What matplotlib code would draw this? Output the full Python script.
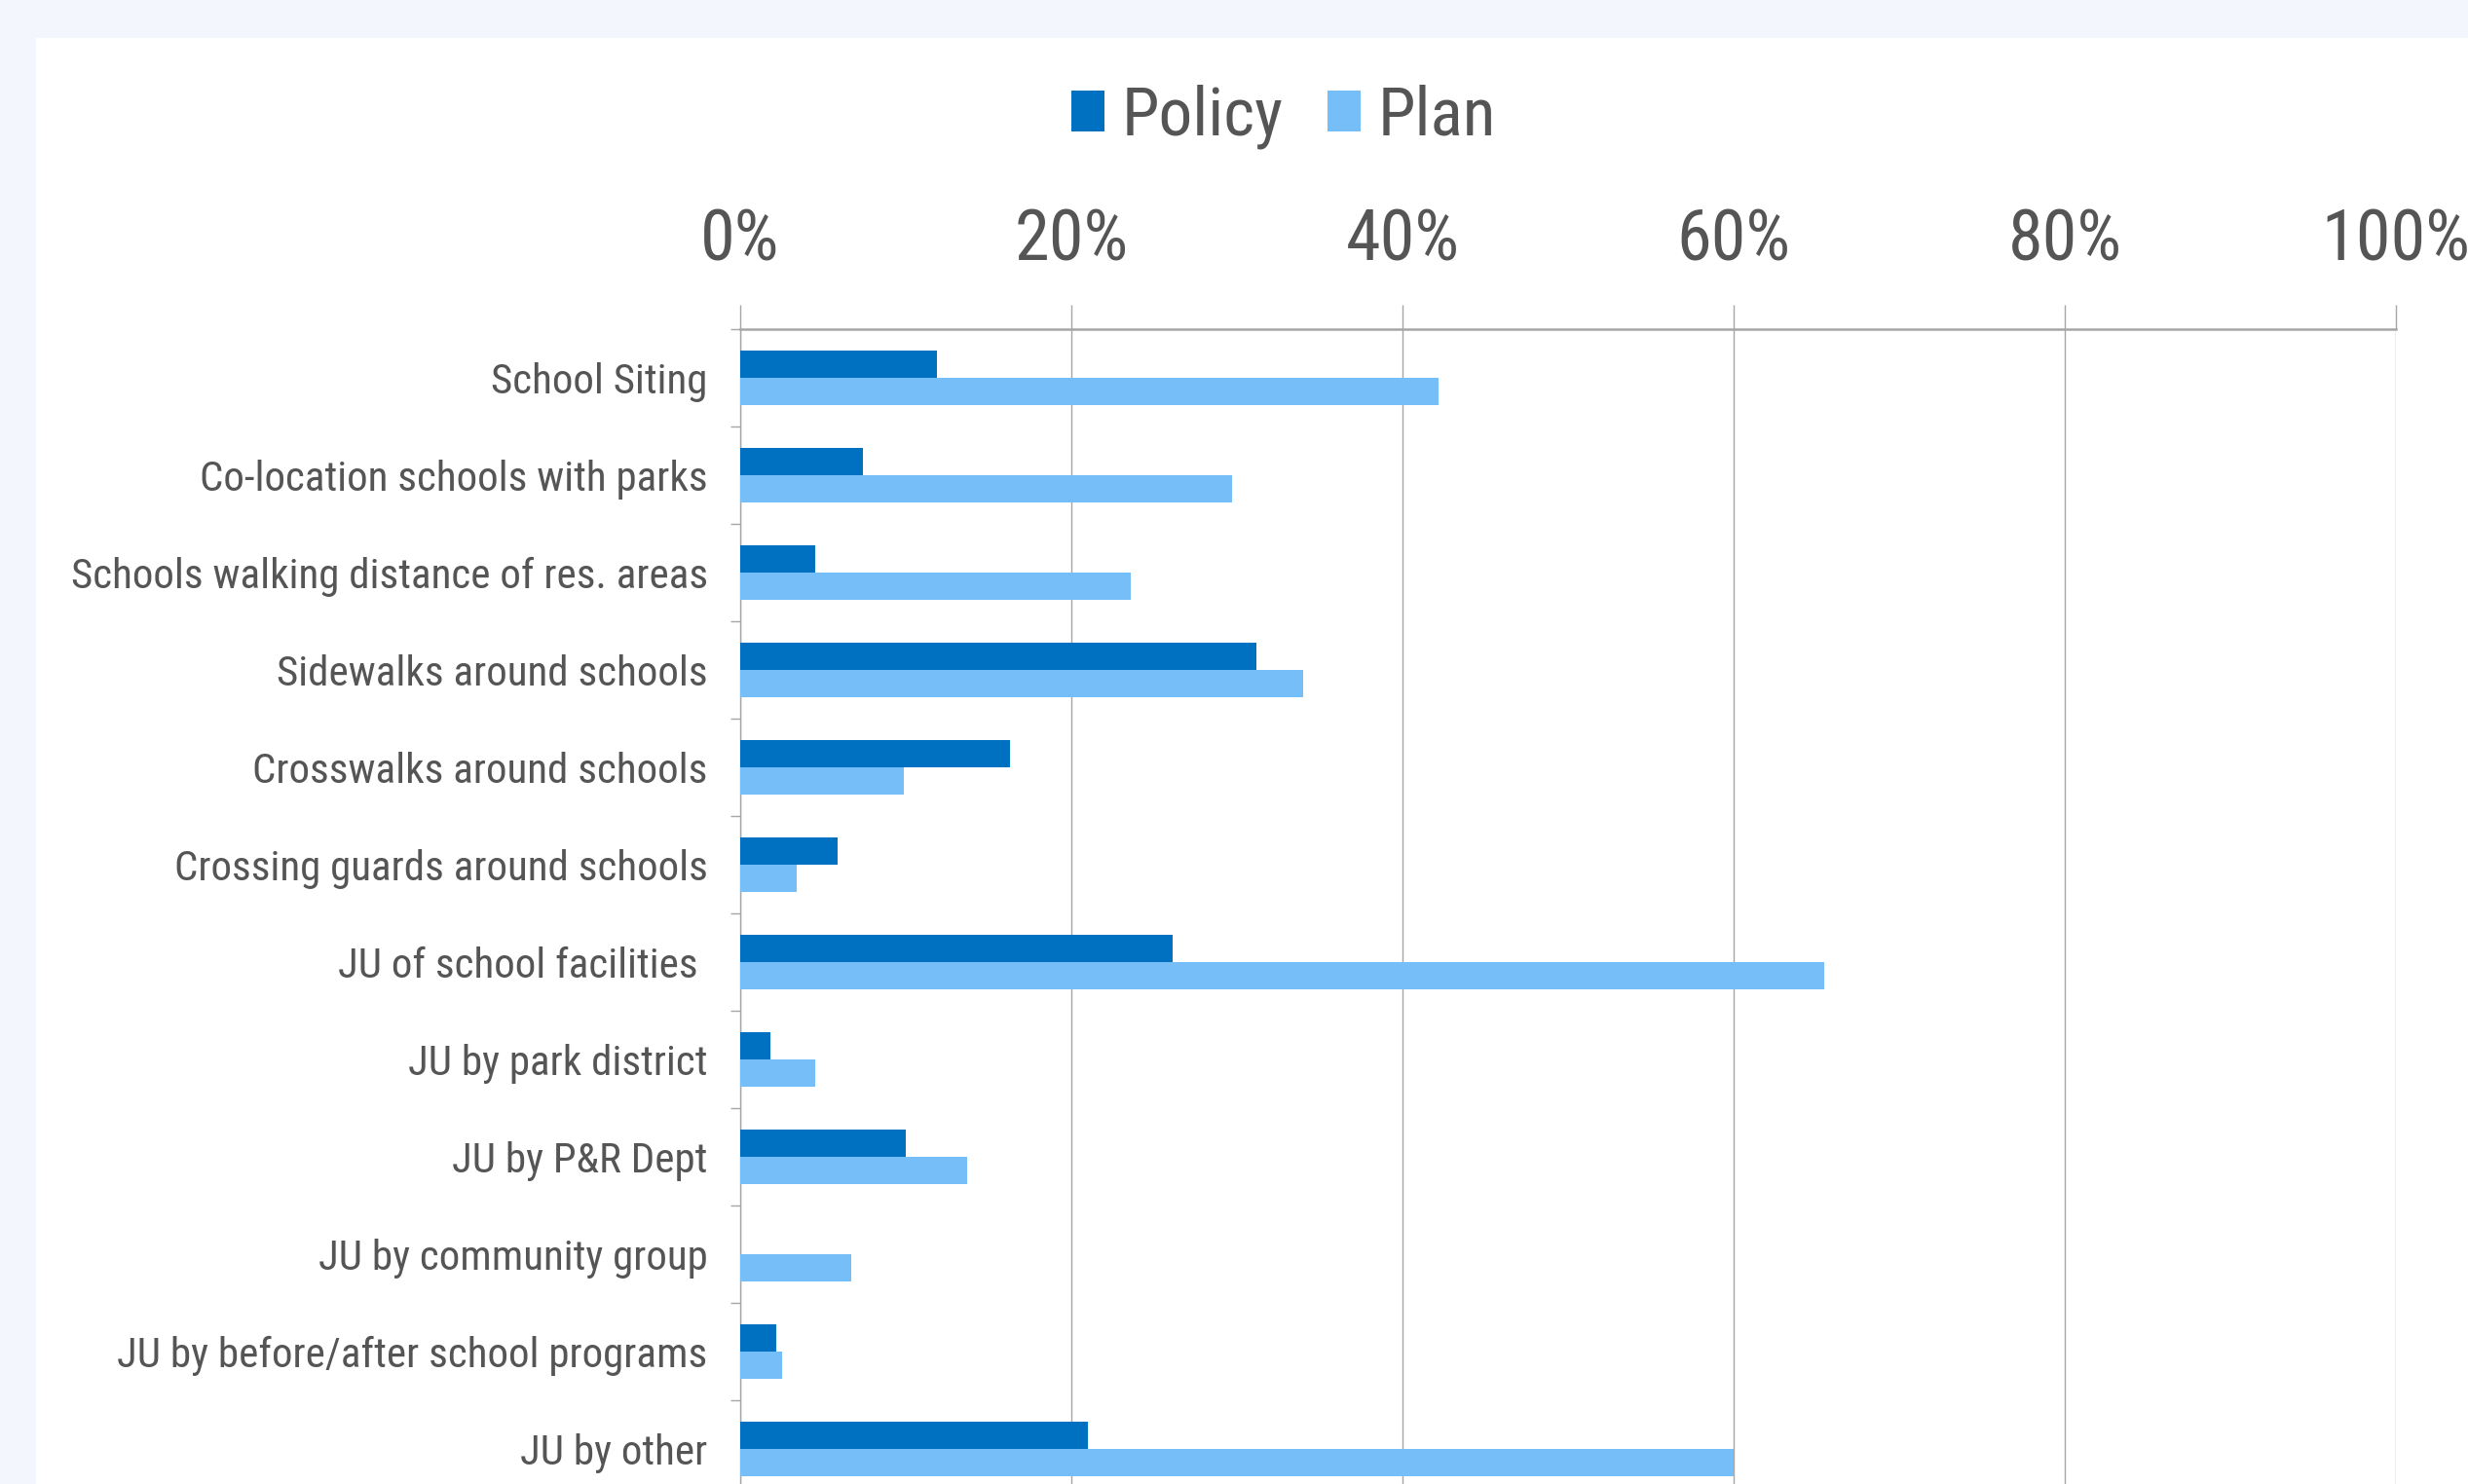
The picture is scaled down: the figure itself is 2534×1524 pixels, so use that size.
import os
import matplotlib
matplotlib.use("Agg")
import matplotlib.pyplot as plt
from matplotlib import font_manager as fm
from matplotlib.font_manager import FontProperties
from matplotlib.patches import Patch, Rectangle
from matplotlib.ticker import FixedLocator, FuncFormatter
import numpy as np

# ---- data -------------------------------------------------------------
categories = [
    "School Siting",
    "Co-location schools with parks",
    "Schools walking distance of res. areas",
    "Sidewalks around schools",
    "Crosswalks around schools",
    "Crossing guards around schools",
    "JU of school facilities ",
    "JU by park district",
    "JU by P&R Dept",
    "JU by community group",
    "JU by before/after school programs",
    "JU by other",
]
policy = [11.9, 7.4, 4.5, 31.2, 16.3, 5.9, 26.1, 1.8, 10.0, 0.0, 2.2, 21.0]
plan = [42.2, 29.7, 23.6, 34.0, 9.9, 3.4, 65.5, 4.5, 13.7, 6.7, 2.5, 60.0]
series_names = ["Policy", "Plan"]
x_ticks = [0, 20, 40, 60, 80, 100]

# ---- fonts: prefer a narrow sans face, else regular Liberation Sans -------
def find_narrow_font():
    preferred = ["liberationsansnarrow-regular", "arialn", "robotocondensed-regular",
                 "opensanscondensed", "dejavusanscondensed."]
    files = [f.fname for f in fm.fontManager.ttflist]
    for key in preferred:
        for fn in files:
            if os.path.basename(fn).lower().replace(" ", "").startswith(key):
                return fn
    return None


narrow = find_narrow_font()


def font(size):
    if narrow:
        return FontProperties(fname=narrow, size=size)
    return FontProperties(family="Liberation Sans", size=size)


C_POLICY = "#0070C0"
C_PLAN = "#76BEF7"
C_TEXT = "#555555"
C_GRID = "#A6A6A6"
C_PAGE = "#F3F7FD"

W, H, DPI = 2534, 1524, 100
fig = plt.figure(figsize=(W / DPI, H / DPI), dpi=DPI, facecolor=C_PAGE)
renderer = fig.canvas.get_renderer()


def fit_size(text, target_px, max_size):
    """Largest size (<= max_size) at which text is no wider than target_px."""
    w, _, _ = renderer.get_text_width_height_descent(text, font(max_size), ismath=False)
    return max_size if w <= target_px else max_size * target_px / w


size_cat = fit_size("Schools walking distance of res. areas", 656, 31)
size_tick = fit_size("0%", 88, 52)
size_leg = fit_size("Policy", 166, 53)

# white chart panel
fig.add_artist(Rectangle((37 / W, 0), 1 - 37 / W, 1 - 39 / H,
                         transform=fig.transFigure, facecolor="white",
                         edgecolor="none", zorder=0))

left, right = 760 / W, 2460 / W
top, bottom = 1 - 338 / H, 1 - 1538 / H
ax = fig.add_axes([left, bottom, right - left, top - bottom])
ax.set_facecolor("none")

y = np.arange(len(categories))
bar_h = 0.28
ax.barh(y - bar_h / 2, policy, height=bar_h, color=C_POLICY, zorder=3)
ax.barh(y + bar_h / 2, plan, height=bar_h, color=C_PLAN, zorder=3)

ax.set_xlim(0, 100)
ax.set_ylim(len(categories) - 0.5, -0.5)

# x axis on top with percent labels
ax.xaxis.tick_top()
ax.xaxis.set_major_locator(FixedLocator(x_ticks))
ax.xaxis.set_major_formatter(FuncFormatter(lambda v, p: f"{v:.0f}%"))
ax.tick_params(axis="x", which="major", length=18, width=1.0, color=C_GRID,
               pad=22, labelcolor=C_TEXT)
for lbl in ax.get_xticklabels():
    lbl.set_fontproperties(font(size_tick))
ax.grid(axis="x", color=C_GRID, linewidth=1.0, zorder=1)

# category labels and boundary ticks
ax.set_yticks(y)
ax.set_yticklabels(categories)
for lbl in ax.get_yticklabels():
    lbl.set_fontproperties(font(size_cat))
ax.yaxis.set_minor_locator(FixedLocator(np.arange(-0.5, len(categories), 1.0)))
ax.tick_params(axis="y", which="major", length=0, pad=24, labelcolor=C_TEXT)
ax.tick_params(axis="y", which="minor", length=7, width=1.0, color=C_GRID)

for side in ("right", "bottom"):
    ax.spines[side].set_visible(False)
ax.spines["top"].set_color(C_GRID)
ax.spines["top"].set_linewidth(1.8)
ax.spines["left"].set_color(C_GRID)
ax.spines["left"].set_linewidth(1.0)

# legend
handles = [Patch(facecolor=C_POLICY, edgecolor="none"),
           Patch(facecolor=C_PLAN, edgecolor="none")]
leg_px = size_leg * DPI / 72
fig.legend(handles, series_names, loc="center",
           bbox_to_anchor=(1318 / W, 1 - 120 / H), ncol=2, frameon=False,
           prop=font(size_leg), labelcolor=C_TEXT,
           handlelength=34 / leg_px, handleheight=38 / leg_px,
           handletextpad=18 / leg_px, columnspacing=45 / leg_px,
           borderpad=0, borderaxespad=0)

fig.savefig("out.png", dpi=DPI, facecolor=C_PAGE)
